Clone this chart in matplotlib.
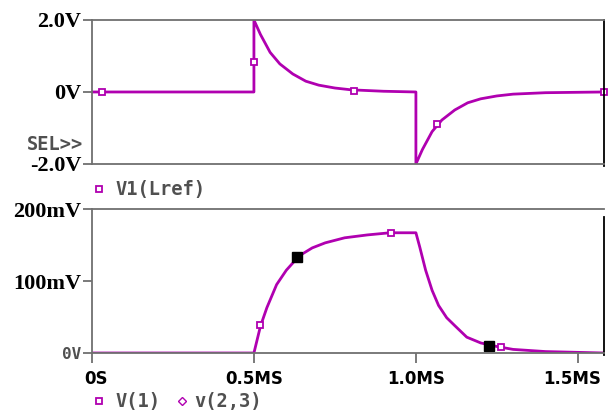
import numpy as np
import matplotlib
matplotlib.use('Agg')
import matplotlib.pyplot as plt
import matplotlib.transforms as mtrans
from matplotlib.lines import Line2D

# V1(Lref) trace, tiempo en ms
t_top = [0, 0.5, 0.5, 0.52, 0.55, 0.58, 0.62, 0.66, 0.70, 0.75, 0.80, 0.90, 1.0,
         1.0, 1.02, 1.05, 1.08, 1.12, 1.16, 1.20, 1.25, 1.30, 1.40, 1.58]
v_top = [0, 0, 2.0, 1.6, 1.1, 0.78, 0.50, 0.30, 0.19, 0.11, 0.06, 0.02, 0.0,
         -2.0, -1.6, -1.1, -0.78, -0.50, -0.30, -0.19, -0.11, -0.06, -0.02, 0]
# marcadores sobre la traza superior
mk_top_t = [0.03, 0.5, 0.81, 1.065, 1.58]
mk_top_v = [0, 0.83, 0.02, -0.89, 0]

# V(1) trace en mV
t_bot = [0, 0.5, 0.52, 0.54, 0.57, 0.60, 0.64, 0.68, 0.72, 0.78, 0.85, 0.92, 1.0,
         1.012, 1.03, 1.05, 1.07, 1.095, 1.12, 1.157, 1.20, 1.25, 1.30, 1.40, 1.58]
v_bot = [0, 0, 37, 63, 95, 115, 135, 146, 153, 160, 164, 167, 167,
         147, 115, 87, 66, 49, 38, 22, 14, 9, 5, 2, 0]
mk_bot_t = [0.52, 0.923, 1.262]
mk_bot_v = [39, 167, 8]
cur_t = [0.633, 1.225]
cur_v = [133, 10]

xticks = [0, 0.5, 1.0, 1.5]
xlabels = ['0S', '0.5MS', '1.0MS', '1.5MS']

trace = '#B000B0'
grey = '#707070'
txtgrey = '#505050'
serif = dict(family='Liberation Serif', weight='bold', size=16)
mono = dict(family='DejaVu Sans Mono', weight='bold', size=13.5)

fig = plt.figure(figsize=(6.13, 4.12), dpi=100)
ax1 = fig.add_axes([0.150, 0.602, 0.835, 0.3495])
ax2 = fig.add_axes([0.150, 0.1432, 0.835, 0.3495])

for ax in (ax1, ax2):
    ax.set_xlim(0, 1.58)
    for s in ('top', 'bottom', 'left'):
        ax.spines[s].set_color(grey)
        ax.spines[s].set_linewidth(1.3)
    ax.spines['right'].set_color('black')
    ax.spines['right'].set_linewidth(1.3)
    ax.tick_params(axis='y', direction='out', length=6.5, width=1.3, color=grey, pad=1)

# panel superior
ax1.plot(t_top, v_top, color=trace, lw=2.0)
ax1.plot(mk_top_t, mk_top_v, ls='none', marker='s', ms=5, mfc='white', mec=trace, mew=1.3, clip_on=False)
ax1.set_ylim(-2, 2)
ax1.set_yticks([-2, 0, 2])
ax1.set_yticklabels(['-2.0V', '0V', '2.0V'], fontdict=serif)
ax1.set_xticks([])
ax1.spines['right'].set_bounds(-2.05, 2)

# panel inferior
ax2.plot(t_bot, v_bot, color=trace, lw=2.0)
ax2.plot(mk_bot_t, mk_bot_v, ls='none', marker='s', ms=5, mfc='white', mec=trace, mew=1.3, clip_on=False)
ax2.plot(cur_t, cur_v, ls='none', marker='s', ms=6.5, color='black', clip_on=False)
ax2.set_ylim(0, 200)
ax2.set_yticks([0, 100, 200])
ax2.set_yticklabels(['0V', '100mV', '200mV'], fontdict=serif)
lab0 = ax2.get_yticklabels()[0]
lab0.set_fontfamily('DejaVu Sans Mono')
lab0.set_fontsize(11.5)
lab0.set_color(txtgrey)
ax2.set_xticks(xticks)
ax2.set_xticklabels(xlabels, fontfamily='DejaVu Sans', fontweight='bold', fontsize=12)
ax2.tick_params(axis='x', direction='out', length=7, width=1.3, color=grey, pad=5)
ax2.spines['right'].set_bounds(-3, 189)
# pequeños desplazamientos de las etiquetas extremas
xl = ax2.get_xticklabels()
xl[0].set_transform(xl[0].get_transform() + mtrans.ScaledTranslation(4 / 100, 0, fig.dpi_scale_trans))
xl[3].set_transform(xl[3].get_transform() + mtrans.ScaledTranslation(-6 / 100, 0, fig.dpi_scale_trans))

# textos tipo PSpice
fig.text(27 / 613, 1 - 144 / 412, 'SEL>>', color=txtgrey, va='center', ha='left', **mono)
fig.text(115 / 613, 1 - 189 / 412, 'V1(Lref)', color=txtgrey, va='center', ha='left', **mono)
fig.text(115 / 613, 1 - 401 / 412, 'V(1)', color=txtgrey, va='center', ha='left', **mono)
fig.text(194 / 613, 1 - 401 / 412, 'v(2,3)', color=txtgrey, va='center', ha='left', **mono)
fig.add_artist(Line2D([99 / 613], [1 - 189 / 412], transform=fig.transFigure, marker='s', ms=5,
                      mfc='white', mec=trace, mew=1.3, ls='none'))
fig.add_artist(Line2D([99 / 613], [1 - 401 / 412], transform=fig.transFigure, marker='s', ms=5,
                      mfc='white', mec=trace, mew=1.3, ls='none'))
fig.add_artist(Line2D([182 / 613], [1 - 401 / 412], transform=fig.transFigure, marker='D', ms=4,
                      mfc='white', mec=trace, mew=1.0, ls='none'))

fig.savefig('out.png', dpi=100)
